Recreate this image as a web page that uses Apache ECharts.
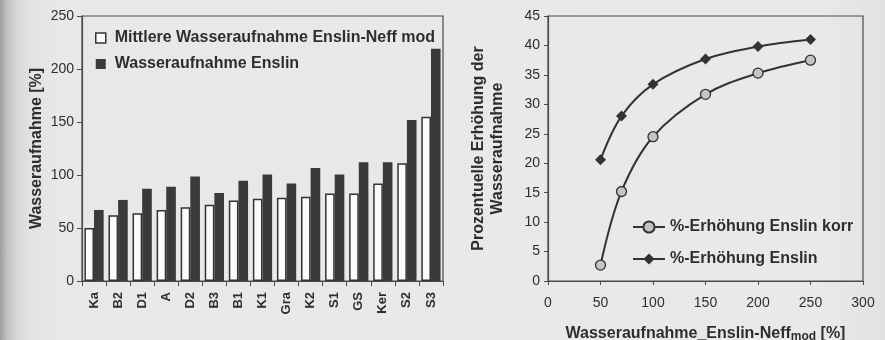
<!DOCTYPE html>
<html>
<head>
<meta charset="utf-8">
<script src="https://cdn.jsdelivr.net/npm/echarts@6/dist/echarts.min.js"></script>
<style>
  html, body { margin: 0; padding: 0; }
  body {
    width: 885px; height: 340px; overflow: hidden;
    background: linear-gradient(to right, #9e9e9e 0px, #c4c4c4 8px, #d9d9d9 18px, #e3e3e3 32px, #e8e8e8 60px, #e9e9e9 820px, #e2e2e2 885px);
  }
  #chart { width: 885px; height: 340px; }
</style>
</head>
<body>
<div id="chart"></div>
<script>
// Left panel: water uptake per sample
const samples = ['Ka', 'B2', 'D1', 'A', 'D2', 'B3', 'B1', 'K1', 'Gra', 'K2', 'S1', 'GS', 'Ker', 'S2', 'S3'];
const uptakeEnslinNeffMod = [50, 62, 64, 67, 69.5, 72, 76, 77.5, 78.5, 79.5, 82.5, 82.5, 92, 111, 155];
const uptakeEnslin = [67, 76.5, 87, 89, 98.5, 83, 94.5, 100.5, 92, 106.5, 100.5, 112, 112, 152, 219];

// Right panel: percentage increase vs. Enslin-Neff mod uptake
const uptakeLevels = [50, 70, 100, 150, 200, 250];
const increaseEnslinKorr = [2.7, 15.2, 24.5, 31.7, 35.3, 37.5];
const increaseEnslin = [20.6, 28.0, 33.4, 37.7, 39.8, 41.0];

const ink = '#2e2e2e';
const font = '"Liberation Sans", Arial, Helvetica, sans-serif';

const chart = echarts.init(document.getElementById('chart'), null, { renderer: 'canvas' });

chart.setOption({
  animation: false,
  textStyle: { fontFamily: font, color: ink },
  grid: [
    { left: 82, top: 16, width: 361, height: 265, show: true, borderColor: '#4a4a4a', borderWidth: 1.2, backgroundColor: 'transparent', outerBoundsMode: 'none', containLabel: false },
    { left: 548, top: 16, width: 315, height: 265, show: true, borderColor: '#4a4a4a', borderWidth: 1.2, backgroundColor: 'transparent', outerBoundsMode: 'none', containLabel: false }
  ],
  legend: [
    {
      orient: 'vertical', left: 95, top: 30, itemGap: 10, padding: 0,
      icon: 'rect', itemWidth: 10, itemHeight: 10,
      textStyle: { fontFamily: font, fontWeight: 'bold', fontSize: 16, color: ink, padding: [0, 0, 0, 4] },
      data: [
        { name: 'Mittlere Wasseraufnahme Enslin-Neff mod', itemStyle: { color: '#fbfbfb', borderColor: '#333', borderWidth: 1.5 } },
        { name: 'Wasseraufnahme Enslin', itemStyle: { color: '#3a3a3a' } }
      ]
    },
    {
      orient: 'vertical', left: 632, top: 219, itemGap: 16, padding: 0,
      itemWidth: 32, itemHeight: 14,
      textStyle: { fontFamily: font, fontWeight: 'bold', fontSize: 16, color: ink },
      data: ['%-Erhöhung Enslin korr', '%-Erhöhung Enslin']
    }
  ],
  xAxis: [
    {
      gridIndex: 0, type: 'category', data: samples,
      axisLine: { lineStyle: { color: '#4a4a4a', width: 1.2 } },
      axisTick: { show: true, length: 5, alignWithLabel: false, lineStyle: { color: '#4a4a4a' } },
      axisLabel: { rotate: 90, interval: 0, margin: 11, fontFamily: font, fontWeight: 'bold', fontSize: 13, color: ink }
    },
    {
      gridIndex: 1, type: 'value', min: 0, max: 300, interval: 50,
      splitLine: { show: false },
      axisLine: { onZero: false, lineStyle: { color: '#4a4a4a', width: 1.2 } },
      axisTick: { show: true, length: 4, lineStyle: { color: '#4a4a4a' } },
      axisLabel: { margin: 15, fontFamily: font, fontSize: 14, color: ink },
      name: '{a|Wasseraufnahme_Enslin-Neff}{b|mod}{a| [%]}',
      nameLocation: 'middle', nameGap: 44,
      nameTextStyle: {
        rich: {
          a: { fontFamily: font, fontWeight: 'bold', fontSize: 16, color: ink },
          b: { fontFamily: font, fontWeight: 'bold', fontSize: 12, color: ink, verticalAlign: 'bottom', padding: [6, 0, 0, 0] }
        }
      }
    }
  ],
  yAxis: [
    {
      gridIndex: 0, type: 'value', min: 0, max: 250, interval: 50,
      splitLine: { show: false },
      axisLine: { show: true, lineStyle: { color: '#4a4a4a', width: 1.2 } },
      axisTick: { show: true, length: 5, lineStyle: { color: '#4a4a4a' } },
      axisLabel: { margin: 8, fontFamily: font, fontSize: 14, color: ink },
      name: 'Wasseraufnahme [%]', nameLocation: 'middle', nameGap: 37,
      nameTextStyle: { fontFamily: font, fontWeight: 'bold', fontSize: 16, color: ink }
    },
    {
      gridIndex: 1, type: 'value', min: 0, max: 45, interval: 5,
      splitLine: { show: false },
      axisLine: { show: true, onZero: false, lineStyle: { color: '#4a4a4a', width: 1.2 } },
      axisTick: { show: true, length: 4, lineStyle: { color: '#4a4a4a' } },
      axisLabel: { margin: 8, fontFamily: font, fontSize: 14, color: ink },
      name: 'Prozentuelle Erhöhung der\nWasseraufnahme', nameLocation: 'middle', nameGap: 41,
      nameTextStyle: { fontFamily: font, fontWeight: 'bold', fontSize: 16, lineHeight: 19, color: ink }
    }
  ],
  series: [
    {
      name: 'Mittlere Wasseraufnahme Enslin-Neff mod', type: 'bar',
      xAxisIndex: 0, yAxisIndex: 0, data: uptakeEnslinNeffMod,
      barGap: '0%', barCategoryGap: '20%',
      itemStyle: { color: '#fbfbfb', borderColor: '#333', borderWidth: 1.5 }
    },
    {
      name: 'Wasseraufnahme Enslin', type: 'bar',
      xAxisIndex: 0, yAxisIndex: 0, data: uptakeEnslin,
      barGap: '0%', barCategoryGap: '20%',
      itemStyle: { color: '#3a3a3a' }
    },
    {
      name: '%-Erhöhung Enslin korr', type: 'line', smooth: 0.35,
      xAxisIndex: 1, yAxisIndex: 1,
      data: uptakeLevels.map((x, i) => [x, increaseEnslinKorr[i]]),
      symbol: 'circle', symbolSize: 10,
      lineStyle: { color: '#333', width: 2 },
      itemStyle: { color: '#c4c4c4', borderColor: '#333', borderWidth: 1.3 }
    },
    {
      name: '%-Erhöhung Enslin', type: 'line', smooth: 0.35,
      xAxisIndex: 1, yAxisIndex: 1,
      data: uptakeLevels.map((x, i) => [x, increaseEnslin[i]]),
      symbol: 'diamond', symbolSize: 11,
      lineStyle: { color: '#333', width: 2 },
      itemStyle: { color: '#333' }
    }
  ]
});
</script>
</body>
</html>
